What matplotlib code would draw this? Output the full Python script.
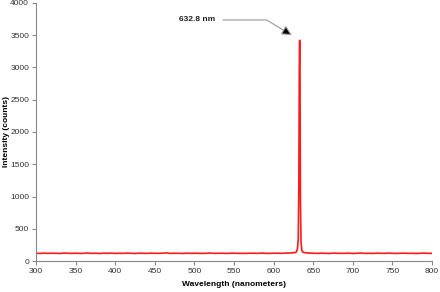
import matplotlib
matplotlib.use('Agg')
import matplotlib.pyplot as plt

plt.rcParams['font.family'] = ['Liberation Sans', 'DejaVu Sans']

# baseline readings, left of the laser line (every 5 nm)
wl_left = list(range(300, 630, 5))
counts_left = [121, 118, 123, 119, 122, 120, 117, 124, 121, 119, 122, 118, 120, 125, 119,
               121, 117, 122, 120, 123, 118, 121, 119, 124, 120, 117, 122, 121, 118, 123,
               120, 119, 122, 126, 118, 121, 120, 117, 123, 119, 122, 120, 118, 121, 124,
               119, 120, 122, 117, 121, 123, 119, 120, 118, 122, 121, 119, 124, 120, 118,
               122, 121, 120, 123, 125, 128]

# the 632.8 nm peak
wl_peak = [628, 629, 630, 631, 631.8, 632.3, 632.8, 633.3, 633.8, 634.5, 635.5, 636.5]
counts_peak = [134, 150, 190, 330, 1200, 2900, 3420, 2700, 900, 300, 170, 140]

# baseline right of the line
wl_right = list(range(640, 805, 5))
counts_right = [128, 124, 121, 119, 122, 120, 118, 123, 121, 119, 120, 122, 117, 121, 124,
                119, 120, 118, 122, 121, 119, 123, 120, 118, 121, 122, 119, 120, 117, 121,
                123, 119, 120]

wavelength = wl_left + wl_peak + wl_right
counts = counts_left + counts_peak + counts_right

fig = plt.figure(figsize=(4.4, 2.92), dpi=100)
ax = fig.add_axes([0.082, 0.106, 0.9, 0.884])

ax.plot(wavelength, counts, color='#ff1a1a', lw=1.2)

ax.set_xlim(300, 800)
ax.set_ylim(0, 4000)
ax.set_xticks(range(300, 801, 50))
ax.set_yticks(range(0, 4001, 500))

for side in ['top', 'right']:
    ax.spines[side].set_visible(False)
for side in ['left', 'bottom']:
    ax.spines[side].set_color('#888888')
    ax.spines[side].set_linewidth(0.8)
ax.tick_params(labelsize=6, colors='#888888', labelcolor='#333333', length=3, width=0.8, pad=2)

ax.set_xlabel('Wavelength (nanometers)', fontsize=6, fontweight='bold', labelpad=4)
ax.set_ylabel('Intensity (counts)', fontsize=6, fontweight='bold')
ax.yaxis.set_label_coords(-0.066, 0.5)

# label with bent leader line
ax.text(503, 3736, '632.8 nm', fontsize=6, fontweight='bold', ha='center', va='center',
        color='#222222')
ax.annotate('', xy=(623, 3500), xytext=(536, 3736),
            arrowprops=dict(arrowstyle='-|>,head_length=0.6,head_width=0.3',
                            connectionstyle='angle,angleA=0,angleB=-31,rad=0',
                            ec='#999999', fc='black', lw=0.8, shrinkA=0, shrinkB=0))

fig.savefig('out.png', dpi=100)
